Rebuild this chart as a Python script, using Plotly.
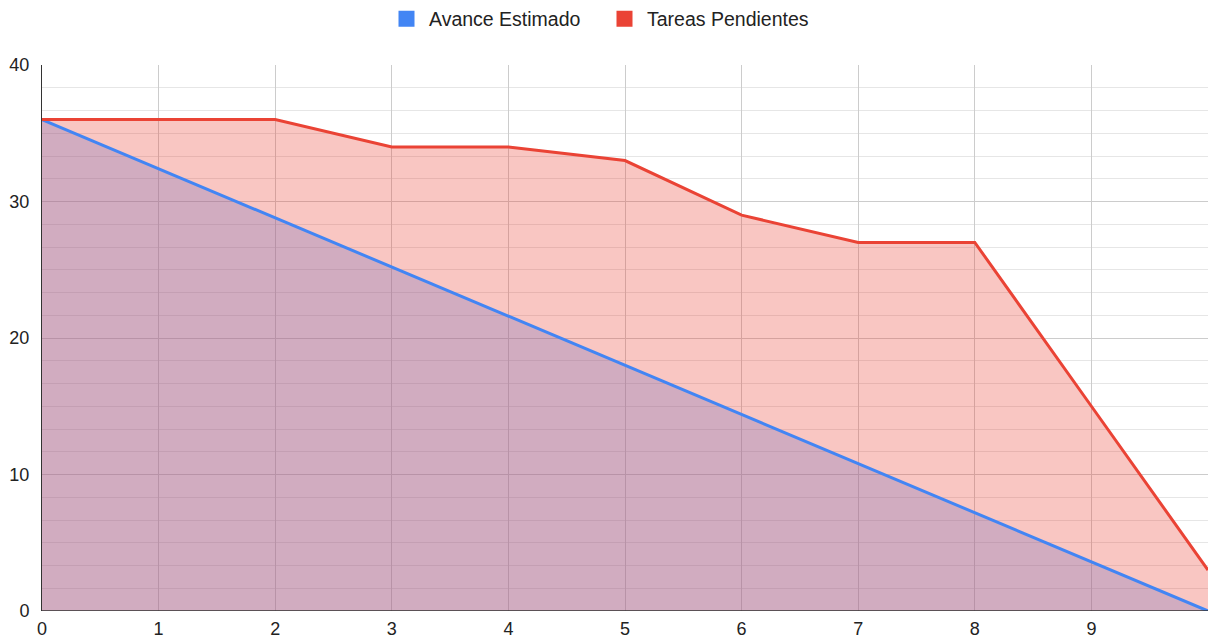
import plotly.graph_objects as go

days = [0, 1, 2, 3, 4, 5, 6, 7, 8, 9, 10]
avance_estimado = [36, 32.4, 28.8, 25.2, 21.6, 18, 14.4, 10.8, 7.2, 3.6, 0]
tareas_pendientes = [36, 36, 36, 34, 34, 33, 29, 27, 27, 15, 3]
x_tick_vals = [0, 1, 2, 3, 4, 5, 6, 7, 8, 9]
x_tick_text = ["0", "1", "2", "3", "4", "5", "6", "7", "8", "9"]
y_tick_vals = [0, 10, 20, 30, 40]

BLUE = "#4285F4"
RED = "#EA4335"

fig = go.Figure()
# fills
fig.add_trace(go.Scatter(x=days, y=avance_estimado, mode="none", fill="tozeroy",
                         fillcolor="rgba(66,133,244,0.3)", showlegend=False, hoverinfo="skip"))
fig.add_trace(go.Scatter(x=days, y=tareas_pendientes, mode="none", fill="tozeroy",
                         fillcolor="rgba(234,67,53,0.3)", showlegend=False, hoverinfo="skip"))
# lines
fig.add_trace(go.Scatter(x=days, y=avance_estimado, mode="lines", line=dict(color=BLUE, width=3),
                         showlegend=False, name="Avance Estimado"))
fig.add_trace(go.Scatter(x=days, y=tareas_pendientes, mode="lines", line=dict(color=RED, width=3),
                         showlegend=False, name="Tareas Pendientes"))
# legend entries
fig.add_trace(go.Scatter(x=[None], y=[None], mode="markers", name="Avance Estimado",
                         marker=dict(symbol="square", size=18, color=BLUE)))
fig.add_trace(go.Scatter(x=[None], y=[None], mode="markers", name="Tareas Pendientes",
                         marker=dict(symbol="square", size=18, color=RED)))

fig.update_layout(
    width=1217, height=644,
    margin=dict(l=42, r=9, t=65, b=33, autoexpand=False),
    paper_bgcolor="white", plot_bgcolor="white",
    font=dict(family="Liberation Sans, Arial, sans-serif", size=18, color="#222222"),
    legend=dict(orientation="h", x=0.5 - 23 / 1166, xanchor="center", y=1 + 46 / 546,
                yanchor="middle", font=dict(size=19.5, color="#222222"), entrywidth=168,
                itemsizing="trace", itemwidth=35, tracegroupgap=0),
    showlegend=True,
)
fig.update_xaxes(range=[0, 10], tickvals=x_tick_vals, ticktext=x_tick_text,
                 showgrid=True, gridcolor="#cccccc", gridwidth=1, automargin=False,
                 zeroline=False, showline=False, ticks="", ticklabelstandoff=5)
fig.update_yaxes(range=[0, 40], tickvals=y_tick_vals, showgrid=True, gridcolor="#cccccc",
                 gridwidth=1, zeroline=False, showline=True, linecolor="#333333", linewidth=1,
                 ticks="", ticklabelstandoff=8, automargin=False,
                 minor=dict(tick0=0, dtick=10/6, showgrid=True, gridcolor="#e6e6e6", gridwidth=1))
# baseline at y=0
fig.add_hline(y=0, line=dict(color="#333333", width=1.5), layer="above")

fig.write_html("out.html", config={"displayModeBar": False},
               post_script="document.body.style.margin='0';document.body.style.overflow='hidden';")
